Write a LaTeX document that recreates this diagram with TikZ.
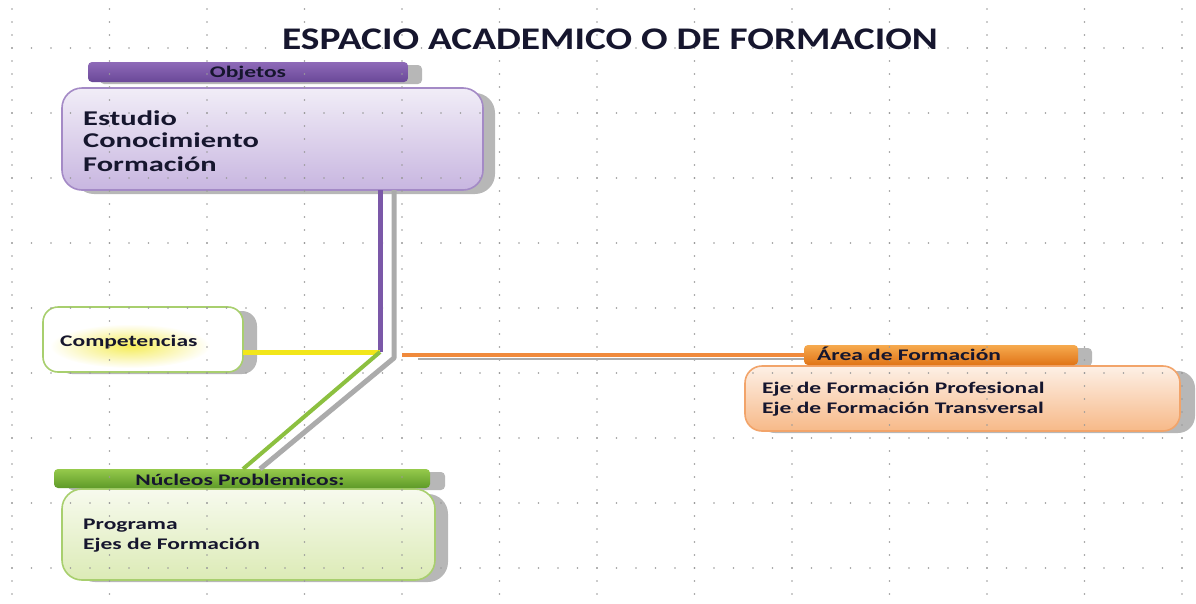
\documentclass[tikz,border=0pt]{standalone}
\usepackage{fontspec}
\setmainfont{Carlito}
\newfontfamily\titlefont[FakeStretch=1.25]{Carlito}
\newfontfamily\bodyfont[FakeStretch=1.45]{Carlito}
\usetikzlibrary{calc}
\definecolor{txt}{HTML}{16162E}
\definecolor{gridc}{HTML}{9A9A9A}
\definecolor{shad}{HTML}{ABABAB}
\definecolor{purA}{HTML}{8E6AB8}
\definecolor{purB}{HTML}{6A4898}
\definecolor{purLine}{HTML}{7B58A8}
\definecolor{purBorder}{HTML}{A48AC6}
\definecolor{lavTop}{HTML}{F1EDF7}
\definecolor{lavBot}{HTML}{C8B6E0}
\definecolor{grnA}{HTML}{96CA4C}
\definecolor{grnB}{HTML}{5E9A28}
\definecolor{grnLine}{HTML}{8CC040}
\definecolor{grnBorder}{HTML}{A8CF6E}
\definecolor{lgTop}{HTML}{F7FAEE}
\definecolor{lgBot}{HTML}{DCEBB6}
\definecolor{orA}{HTML}{F6AA4E}
\definecolor{orB}{HTML}{E07418}
\definecolor{orLine}{HTML}{F08A3C}
\definecolor{orBorder}{HTML}{F2A46A}
\definecolor{peTop}{HTML}{FDF0E6}
\definecolor{peBot}{HTML}{F7B988}
\definecolor{yelLine}{HTML}{F2E61A}
\tikzset{
  box/.style={anchor=north west, inner sep=0pt, outer sep=0pt, line width=1.6pt},
  shadowbox/.style={fill=shad, opacity=0.85},
  lbl/.style={anchor=base west, inner sep=0pt, text=txt, font=\bodyfont\bfseries\fontsize{16.2}{18}\selectfont},
  lblc/.style={lbl, anchor=base},
  biglbl/.style={anchor=base west, inner sep=0pt, text=txt, font=\bodyfont\bfseries\fontsize{21}{24}\selectfont},
  conn/.style={line width=5pt},
}
\begin{document}
\begin{tikzpicture}[x=1pt,y=-1pt]
\useasboundingbox (0,0) rectangle (1196,603);
\fill[white] (0,0) rectangle (1196,603);

% ---------- shadows ----------
\fill[shadowbox, rounded corners=4pt] (100,65) rectangle (422,84);
\fill[shadowbox, rounded corners=20pt] (74,93) rectangle (495,194);
\fill[shadowbox, rounded corners=15pt] (57,311) rectangle (257,374);
\fill[shadowbox, rounded corners=4pt] (68,472) rectangle (445,490);
\fill[shadowbox, rounded corners=20pt] (75,494) rectangle (448,582);
\fill[shadowbox, rounded corners=4pt] (818,348) rectangle (1092,366);
\fill[shadowbox, rounded corners=17pt] (758,371) rectangle (1195,433);

% ---------- boxes ----------
\node[box, draw=purBorder, rounded corners=20pt, top color=lavTop, bottom color=lavBot,
  minimum width=421pt, minimum height=102pt] (obj) at (62,88) {};
\node[box, draw=none, rounded corners=4pt, top color=purA, bottom color=purB,
  minimum width=320pt, minimum height=20pt] (objh) at (88,62) {};

\node[box, draw=grnBorder, rounded corners=15pt, fill=white,
  minimum width=200pt, minimum height=65pt] (comp) at (43,307) {};
\shade[inner color=yelLine!80, outer color=white, opacity=0.9] (130,346) ellipse (80 and 22);

\node[box, draw=grnBorder, rounded corners=20pt, top color=lgTop, bottom color=lgBot,
  minimum width=373pt, minimum height=91pt] (nuc) at (62,489) {};
\node[box, draw=none, rounded corners=4pt, top color=grnA, bottom color=grnB,
  minimum width=376pt, minimum height=19pt] (nuch) at (54,469) {};

\node[box, draw=orBorder, rounded corners=17pt, top color=peTop, bottom color=peBot,
  minimum width=435pt, minimum height=65pt] (area) at (745,366) {};
\node[box, draw=none, rounded corners=4pt, top color=orA, bottom color=orB,
  minimum width=274pt, minimum height=20pt] (areah) at (804,345) {};

% ---------- grid ----------
\foreach \i in {0,...,12} {
  \foreach \j in {0,...,45} {
    \fill[gridc] (12+97.5*\i, 9+13*\j) circle (0.9);
  }
}
\foreach \k in {0,...,8} {
  \foreach \j in {0,...,60} {
    \fill[gridc] (12+19.5*\j, 48+65*\k) circle (0.9);
  }
}

% ---------- connectors ----------
\coordinate (jn) at (380,352);
\coordinate (js) at (394,358);
\coordinate (ostart) at (402,355);
\coordinate (oshad) at (418,359);
\draw[shad, conn, line join=round] (obj.south -| js) -- (js) -- ($(nuch.north west)+(206,0)$);
\draw[shad, line width=2pt] (oshad) -- (areah.west |- oshad);
\draw[purLine, conn] (obj.south -| jn) -- (jn);
\draw[yelLine, conn] (comp.east |- jn) -- (jn);
\draw[grnLine, line width=4pt] (jn) -- ($(nuch.north west)+(189,0)$);
\draw[orLine, line width=4pt] (ostart) -- (areah.west |- ostart);

% ---------- texts ----------
\node[anchor=base, inner sep=0pt, text=txt, font=\titlefont\bfseries\fontsize{31.5}{34}\selectfont] (title) at (610,49) {ESPACIO ACADEMICO O DE FORMACION};

\node[lblc] (tobjh) at (248,77) {Objetos};
\node[biglbl] (t1) at (83,125) {Estudio};
\node[biglbl] (t2) at (83,147.5) {Conocimiento};
\node[biglbl] (t3) at (83,171.5) {Formación};

\node[lbl] (tcomp) at (60,346) {Competencias};

\node[lblc] (tnuch) at (240,485) {Núcleos Problemicos:};
\node[lbl] (tn1) at (83,529) {Programa};
\node[lbl] (tn2) at (83,549) {Ejes de Formación};

\node[lbl] (tareah) at (817,360) {Área de Formación};
\node[lbl] (ta1) at (762,393) {Eje de Formación Profesional};
\node[lbl] (ta2) at (762,413) {Eje de Formación Transversal};
\end{tikzpicture}
\end{document}
